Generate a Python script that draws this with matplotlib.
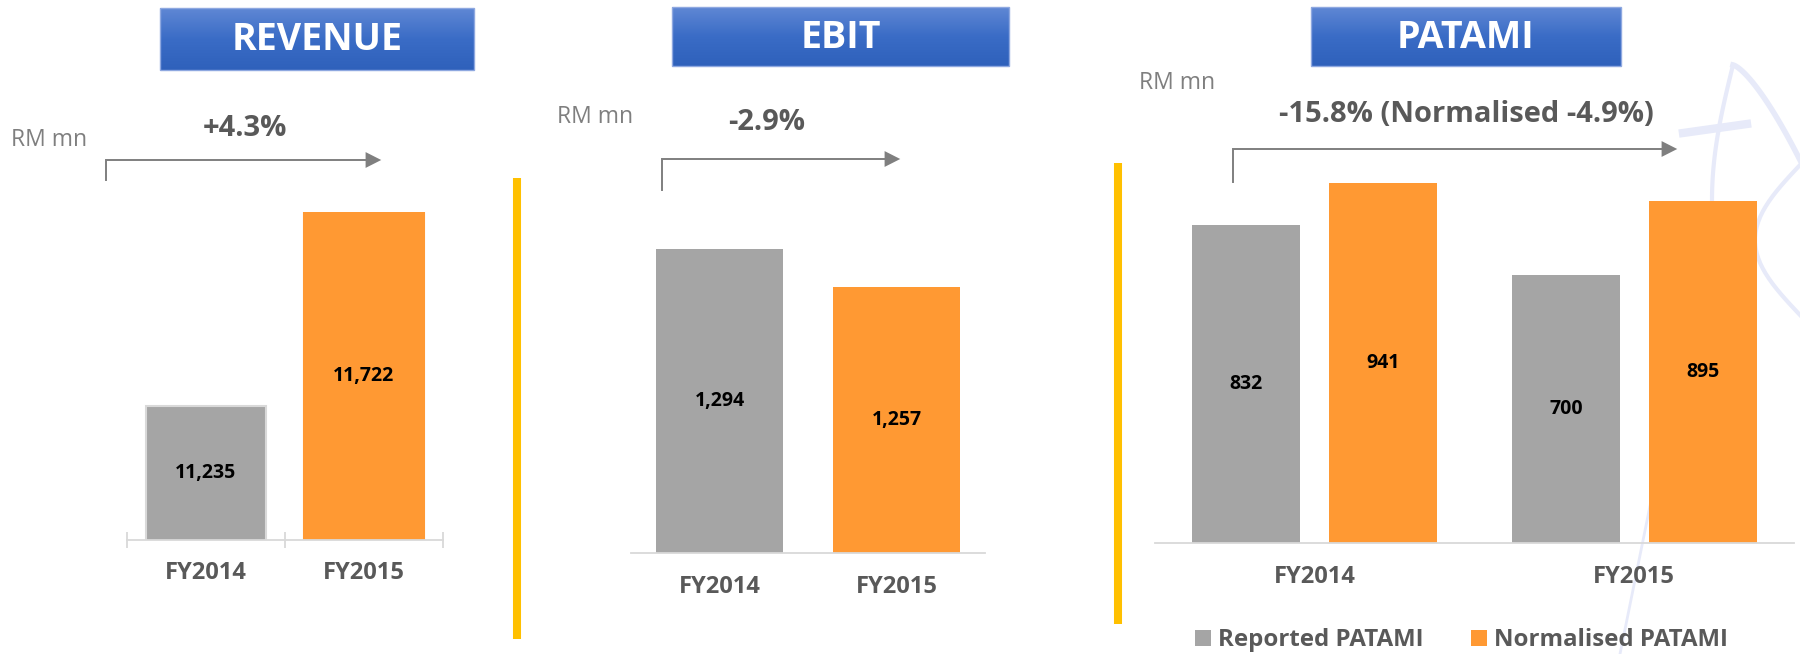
import numpy as np
import matplotlib
matplotlib.use("Agg")
from matplotlib import pyplot as plt
from matplotlib.patches import Rectangle, FancyArrowPatch

plt.rcParams['font.family'] = ['Open Sans', 'DejaVu Sans']

# data
years = ["FY2014", "FY2015"]
revenue = [11235, 11722]
ebit = [1294, 1257]
patami_reported = [832, 700]
patami_normalised = [941, 895]
patami_series = ["Reported PATAMI", "Normalised PATAMI"]
revenue_growth = "+4.3%"
ebit_growth = "-2.9%"
patami_growth = "-15.8% (Normalised -4.9%)"

GREY = "#a5a5a5"
ORANGE = "#ff9933"
YELLOW = "#ffc000"
DARK = "#595959"
AXIS = "#d9d9d9"
FAINT = "#e7eaf9"

W, H = 1800, 654
fig = plt.figure(figsize=(W / 100, H / 100), dpi=100)


def rect(x0, x1, ytop, ybot):
    # pixel box -> figure fraction
    return [x0 / W, 1 - ybot / H, (x1 - x0) / W, (ybot - ytop) / H]


def px_axes(z):
    a = fig.add_axes([0, 0, 1, 1], zorder=z)
    a.set_xlim(0, W)
    a.set_ylim(H, 0)
    a.axis("off")
    a.patch.set_alpha(0)
    return a


def style_axis(ax):
    for s in ["top", "left", "right"]:
        ax.spines[s].set_visible(False)
    ax.spines["bottom"].set_color(AXIS)
    ax.spines["bottom"].set_linewidth(1.3)
    ax.set_yticks([])
    ax.patch.set_alpha(0)


def value_labels(ax, xs, vals, base):
    for x, v in zip(xs, vals):
        ax.text(x, (base + v) / 2, f"{v:,}", ha="center", va="center",
                fontsize=14, fontweight="bold", color="black")


# faint logo watermark behind the PATAMI bars (rough strokes)
bg = px_axes(0)
t = np.linspace(0, 1, 30)
bg.plot(1733 + 67 * t ** 1.3, 65 + 95 * t ** 1.8, color=FAINT, lw=4)
bg.plot(1733 - 21 * np.sin(t * np.pi / 2), 65 + 135 * t, color=FAINT, lw=3)
bg.plot([1712, 1620], [200, 654], color=FAINT, lw=2)
bg.plot([1683, 1747], [133, 124], color=FAINT, lw=6)
bg.plot(1800 - 45 * np.sin(t * np.pi), 165 + 150 * t, color=FAINT, lw=3)

# Revenue
ax1 = fig.add_axes(rect(127, 443, 212, 540), zorder=1)
base1 = 10900
x = np.arange(len(years))
ax1.bar(x, revenue, width=0.76, bottom=0, color=[GREY, ORANGE],
        edgecolor=[AXIS, ORANGE], linewidth=1.5)
ax1.set_ylim(base1, max(revenue))
ax1.set_xlim(-0.5, 1.5)
style_axis(ax1)
ax1.set_xticks(x, years, fontsize=17, fontweight="bold", color=DARK)
ax1.tick_params(axis="x", length=0, pad=15)
ax1.set_xticks([-0.5, 0.5, 1.5], minor=True)
ax1.tick_params(axis="x", which="minor", direction="inout", length=12,
                width=1.3, color=AXIS)
value_labels(ax1, x, revenue, base1)

# EBIT
ax2 = fig.add_axes(rect(631, 985, 249, 553), zorder=1)
base2 = 1000
ax2.bar(x, ebit, width=0.72, color=[GREY, ORANGE])
ax2.set_ylim(base2, max(ebit))
ax2.set_xlim(-0.5, 1.5)
style_axis(ax2)
ax2.set_xticks(x, years, fontsize=17, fontweight="bold", color=DARK)
ax2.tick_params(axis="x", length=0, pad=16)
value_labels(ax2, x, ebit, base2)

# PATAMI
ax3 = fig.add_axes(rect(1155, 1794, 183, 543), zorder=1)
off, bw = 0.214, 0.338
ax3.bar(x - off, patami_reported, width=bw, color=GREY, label=patami_series[0])
ax3.bar(x + off, patami_normalised, width=bw, color=ORANGE, label=patami_series[1])
ax3.set_ylim(0, max(patami_normalised))
ax3.set_xlim(-0.5, 1.5)
style_axis(ax3)
ax3.set_xticks(x, years, fontsize=17, fontweight="bold", color=DARK)
ax3.tick_params(axis="x", length=0, pad=16)
value_labels(ax3, x - off, patami_reported, 0)
value_labels(ax3, x + off, patami_normalised, 0)
leg = ax3.legend(loc="center left", bbox_to_anchor=(1195 / W, 1 - 640 / H),
                 bbox_transform=fig.transFigure, ncol=2, frameon=False,
                 borderpad=0, borderaxespad=0, handlelength=0.65,
                 handleheight=0.65, handletextpad=0.3, columnspacing=2.0,
                 prop={"size": 17.3, "weight": "bold"})
for txt in leg.get_texts():
    txt.set_color(DARK)

# overlay in pixel coordinates for titles, arrows, separators
ov = px_axes(2)

grad = np.linspace(0, 1, 100)[:, None]
blue = matplotlib.colors.LinearSegmentedColormap.from_list("b", ["#5f87d4", "#3a6cc6", "#2f61bb"])
titles = [("REVENUE", 160, 474, 8, 70), ("EBIT", 672, 1009, 7, 66), ("PATAMI", 1311, 1621, 7, 66)]
for name, x0, x1, y0, y1 in titles:
    ov.imshow(grad, cmap=blue, extent=[x0, x1, y1, y0], aspect="auto", zorder=2)
    ov.add_patch(Rectangle((x0, y0), x1 - x0, y1 - y0, fill=False,
                           edgecolor="#8ea8e0", linewidth=1, zorder=3))
    ov.text((x0 + x1) / 2, (y0 + y1) / 2 + 1, name, ha="center", va="center",
            color="white", fontsize=27, fontweight="bold", zorder=4)
ov.set_xlim(0, W)
ov.set_ylim(H, 0)

for xr, yr in [(11, 140), (557, 117), (1139, 83)]:
    ov.text(xr, yr, "RM mn", ha="left", va="center", fontsize=16.5, color="#7f7f7f")

for label, xc, yc in [(revenue_growth, 245, 128), (ebit_growth, 767, 123), (patami_growth, 1466, 115)]:
    ov.text(xc, yc, label, ha="center", va="center", fontsize=21,
            fontweight="bold", color=DARK)

for xs, ys, xe, yl in [(106, 180, 384, 160), (662, 190, 903, 159), (1233, 182, 1680, 149)]:
    ov.plot([xs, xs, xe - 12], [ys, yl, yl], color="#7f7f7f", lw=1.4,
            solid_joinstyle="miter")
    ov.add_patch(FancyArrowPatch((xe - 14, yl), (xe, yl),
                                 arrowstyle="-|>,head_length=0.75,head_width=0.38",
                                 mutation_scale=15, color="#7f7f7f", lw=0))

for xl, y0, y1 in [(517, 178, 639), (1118, 163, 624)]:
    ov.plot([xl, xl], [y0, y1], color=YELLOW, lw=5.8, solid_capstyle="butt")

fig.savefig("out.png", dpi=100)
